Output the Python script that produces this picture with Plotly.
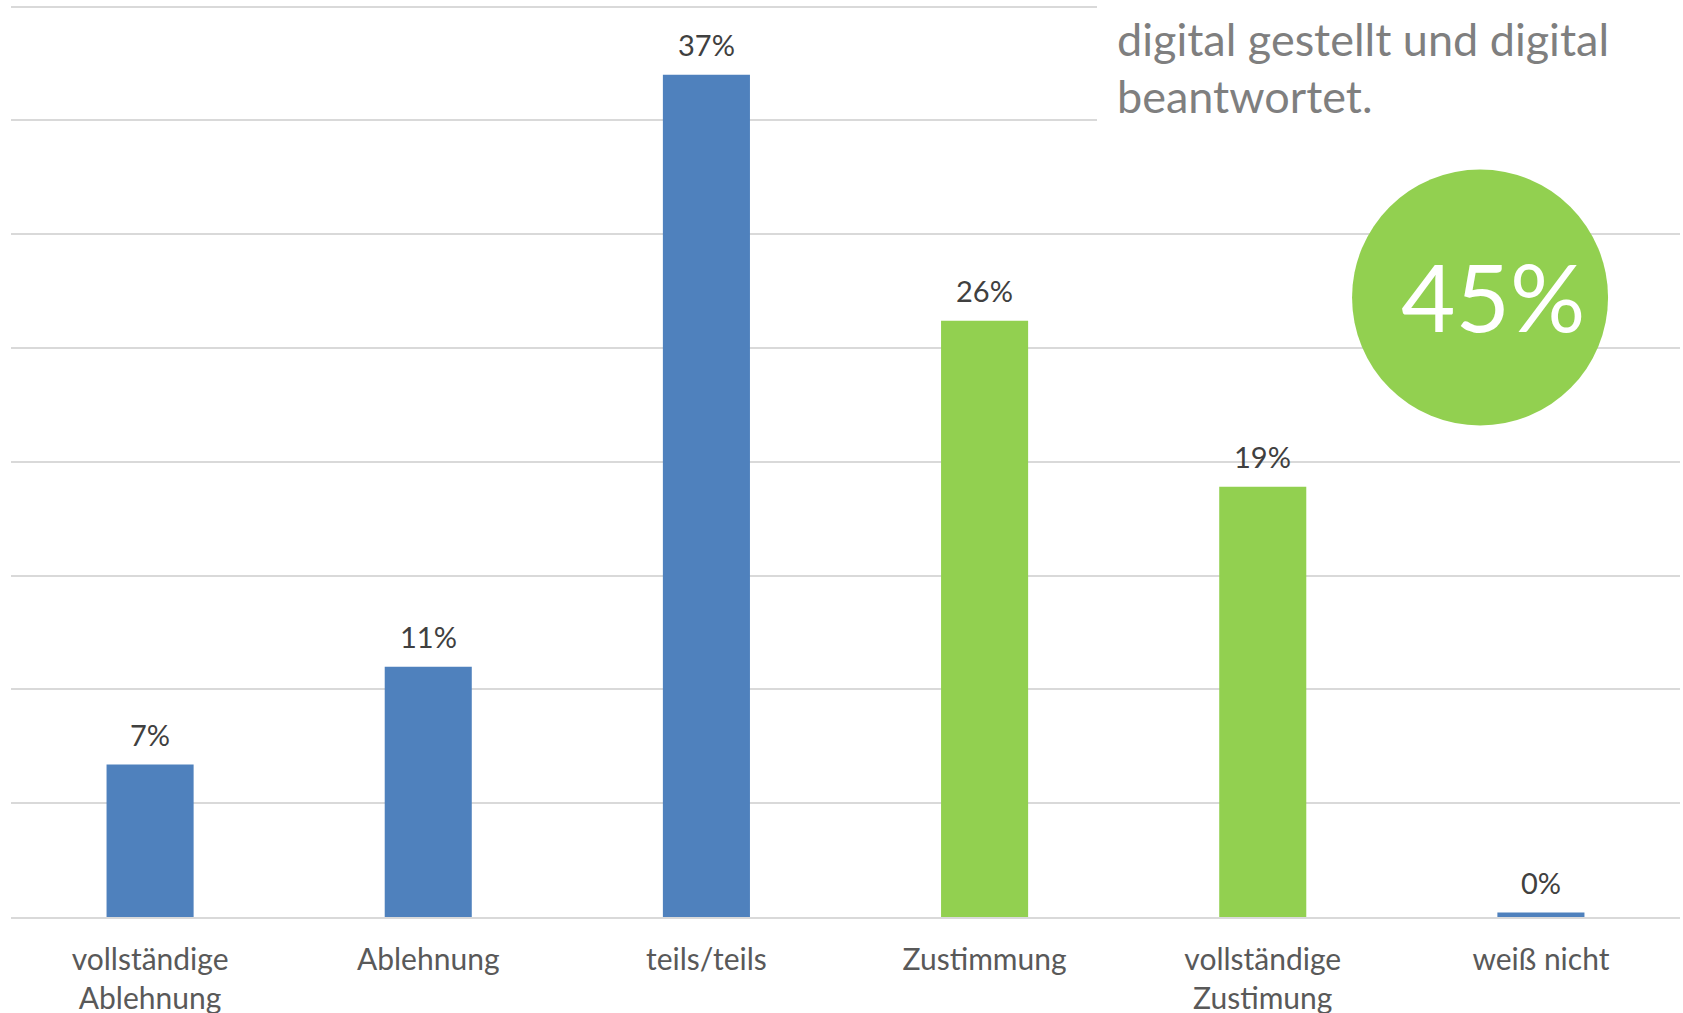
import plotly.graph_objects as go

# Survey answers (share in %)
categories = [
    "vollständige<br>Ablehnung",
    "Ablehnung",
    "teils/teils",
    "Zustimmung",
    "vollständige<br>Zustimung",
    "weiß nicht",
]
values = [6.7, 11.0, 37.0, 26.2, 18.9, 0.2]
labels = ["7%", "11%", "37%", "26%", "19%", "0%"]
bar_colors = ["#4F81BD", "#4F81BD", "#4F81BD", "#92D050", "#92D050", "#4F81BD"]

note_lines = ["digital gestellt und digital", "beantwortet."]
highlight = "45%"

FONT = "Lato"

fig = go.Figure()
fig.add_trace(
    go.Bar(
        x=categories,
        y=values,
        marker=dict(color=bar_colors, line=dict(width=0)),
        width=0.313,
        hoverinfo="skip",
    )
)

# data labels above the bars
for cat, val, lab in zip(categories, values, labels):
    fig.add_annotation(
        x=cat, y=val, text=lab, showarrow=False,
        xref="x", yref="y", xanchor="center", yanchor="middle", yshift=30,
        font=dict(family=FONT, size=29, color="#404040"),
    )

# white text box in the top right hides the grid lines behind the note
fig.add_shape(
    type="rect", xref="paper", yref="paper",
    x0=0.6507, x1=1.01, y0=0.838, y1=1.01,
    fillcolor="white", line=dict(width=0), layer="above",
)
fig.add_annotation(
    x=0.6615, y=0.9595, xref="paper", yref="paper", xanchor="left", yanchor="middle",
    text=note_lines[0], showarrow=False,
    font=dict(family=FONT, size=45, color="#7F7F7F"),
)
fig.add_annotation(
    x=0.6615, y=0.8972, xref="paper", yref="paper", xanchor="left", yanchor="middle",
    text=note_lines[1], showarrow=False,
    font=dict(family=FONT, size=45, color="#7F7F7F"),
)

# green circle with the highlighted share
fig.add_shape(
    type="circle", xref="paper", yref="paper",
    xsizemode="pixel", ysizemode="pixel",
    xanchor=0.8802, yanchor=0.6770,
    x0=-128, x1=128, y0=-128, y1=128,
    fillcolor="#92D050", line=dict(width=0), layer="above",
)
fig.add_annotation(
    x=0.888, y=0.679, xref="paper", yref="paper",
    xanchor="center", yanchor="middle",
    text=highlight, showarrow=False,
    font=dict(family=FONT, size=94, color="white"),
)

fig.update_xaxes(
    type="category",
    showgrid=False,
    showline=True, linecolor="#D9D9D9", linewidth=2,
    ticks="", ticklabelstandoff=15,
    tickfont=dict(family=FONT, size=30, color="#595959"),
    automargin=False,
)
fig.update_yaxes(
    range=[0, 40.2], dtick=5,
    showticklabels=False,
    gridcolor="#D9D9D9", gridwidth=2,
    zeroline=False,
)

fig.update_layout(
    width=1683, height=1013,
    margin=dict(l=11, r=3, t=2, b=96),
    plot_bgcolor="white", paper_bgcolor="white",
    showlegend=False,
    font=dict(family=FONT),
)

# the page body has a default 8px margin; drop it so the chart fills the window
fig.write_html(
    "out.html",
    config={"displayModeBar": False},
    post_script="document.body.style.margin='0px';",
)
